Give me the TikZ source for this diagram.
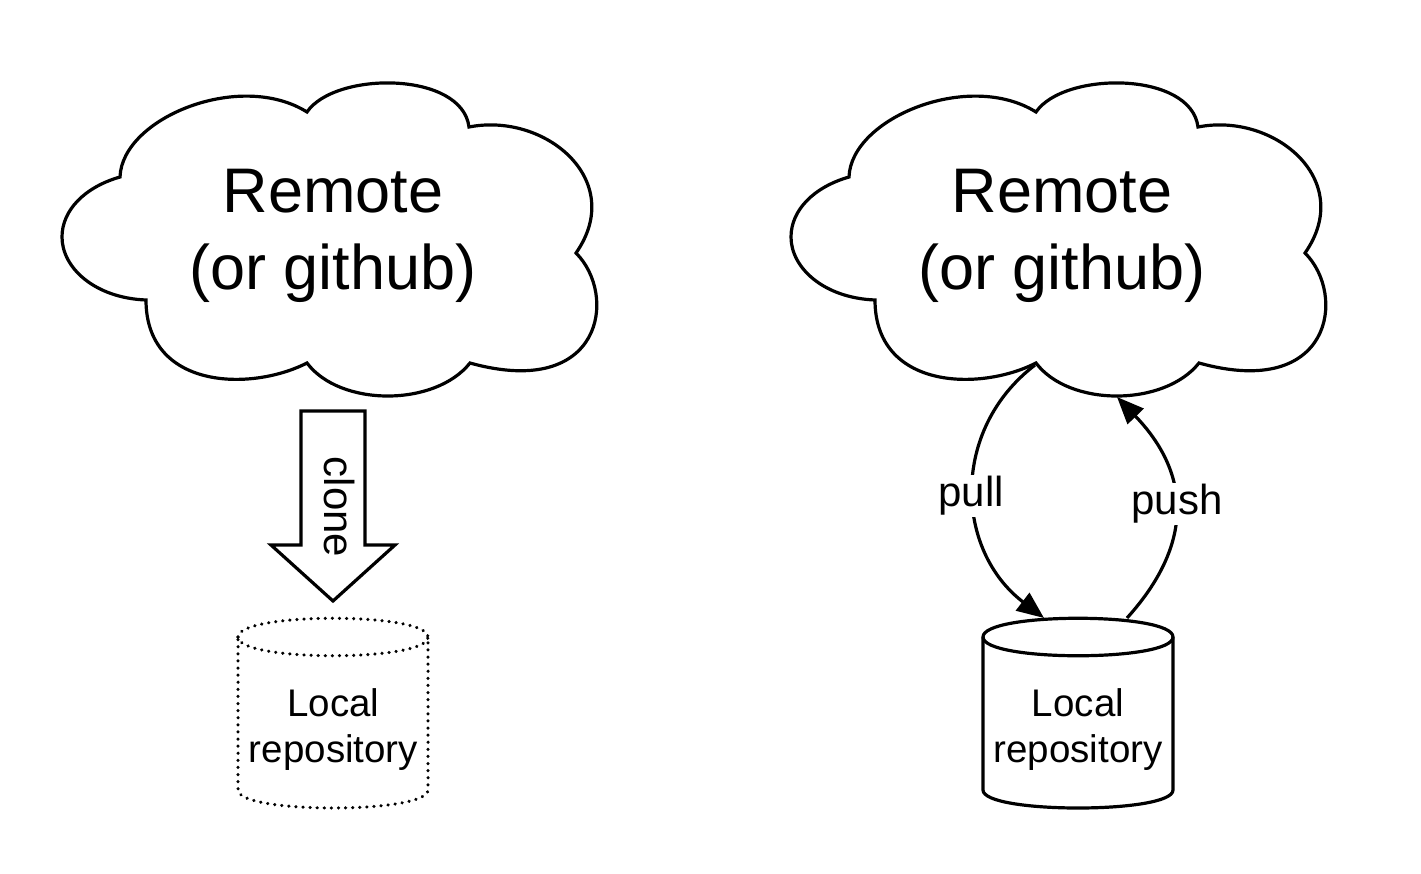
\documentclass[tikz,border=0pt]{standalone}
\usepackage{fontspec}
\setmainfont{Liberation Sans}
\usetikzlibrary{arrows.meta}
\tikzset{
  outline/.style={line width=3.2pt,draw=black,line join=miter},
  dottedline/.style={line width=3.4pt,draw=black,line cap=round,dash pattern=on 0.1pt off 7pt},
  bigtext/.style={align=center,inner sep=0pt,font=\fontsize{63}{77}\selectfont},
  repotext/.style={align=center,inner sep=0pt,font=\fontsize{38.5}{46}\selectfont},
  flowtext/.style={inner sep=1pt,fill=white,font=\fontsize{42}{48}\selectfont},
  flowline/.style={line width=3.2pt,draw=black,-{Triangle[length=27pt,width=22pt]}}
}
\newcommand{\cloudshape}[1]{%
  \draw[outline,#1] (120,177)
    .. controls (122,118) and (240,70) .. (307,112)
    .. controls (335,71) and (462,71) .. (469,127)
    .. controls (545,112) and (627,180) .. (576,253)
    .. controls (618,295) and (603,400) .. (470,363)
    .. controls (435,407) and (340,407) .. (307,363)
    .. controls (250,392) and (146,389) .. (146,300)
    .. controls (95,298) and (62,268) .. (62,237)
    .. controls (62,210) and (85,187) .. (120,177) -- cycle;}
\newcommand{\drumshape}[2]{%
  \draw[#2] (#1-95,637) .. controls (#1-95,612) and (#1+95,612) .. (#1+95,637)
    -- (#1+95,790) .. controls (#1+95,814) and (#1-95,814) .. (#1-95,790) -- cycle;
  \draw[#2] (#1-95,637) .. controls (#1-95,662) and (#1+95,662) .. (#1+95,637);}
\begin{document}
\begin{tikzpicture}[x=1pt,y=-1pt]
\useasboundingbox (0,0) rectangle (1421,873);
\fill[white] (0,0) rectangle (1421,873);

% left
\cloudshape{}
\node[bigtext] (remoteA) at (333,236) {Remote\\(or github)};
\draw[outline] (301,411) -- (365,411) -- (365,545) -- (395,545) -- (333,601) -- (271,545) -- (301,545) -- cycle;
\node[rotate=-90,inner sep=0pt,font=\fontsize{42}{48}\selectfont] (clone) at (340,507) {clone};
\drumshape{333}{dottedline}
\node[repotext] (localA) at (333.5,730) {Local\\repository};

% right
\begin{scope}[xshift=729pt]
\cloudshape{}
\end{scope}
\node[bigtext] (remoteB) at (1062,236) {Remote\\(or github)};
\drumshape{1078}{outline}
\node[repotext] (localB) at (1078,730) {Local\\repository};

\coordinate (pullstart) at (1035,365);
\coordinate (pullend) at (1044,618);
\coordinate (pushstart) at (1127,618);
\coordinate (pushend) at (1117,397);
\draw[flowline] (pullstart) .. controls (950,430) and (955,550) .. (pullend);
\draw[flowline] (pushstart) .. controls (1193,545) and (1192,475) .. (pushend);
\node[flowtext] (pull) at (971,496) {pull};
\node[flowtext] (push) at (1177,504) {push};
\end{tikzpicture}
\end{document}
